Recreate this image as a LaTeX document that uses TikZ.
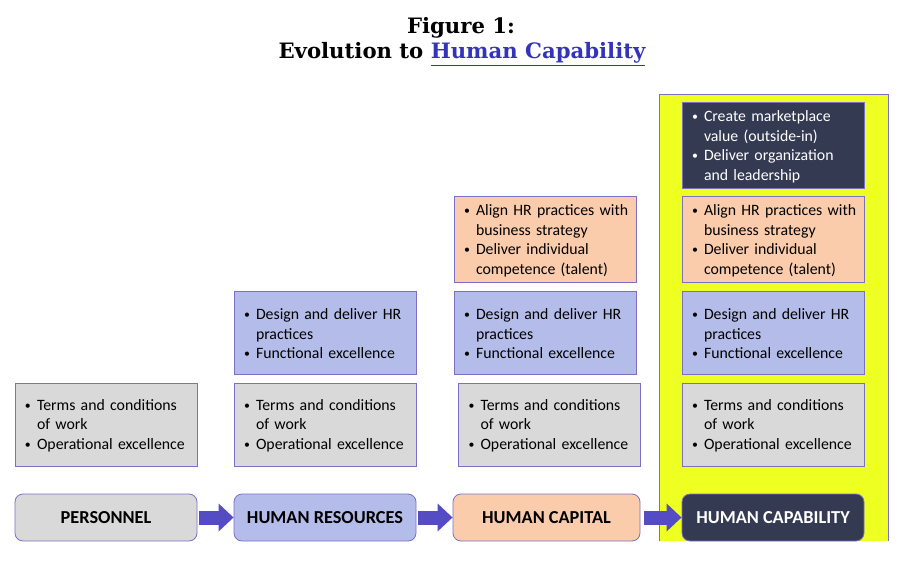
\documentclass[tikz,border=0pt]{standalone}
\usepackage{fontspec}
\usepackage{graphicx}
\setmainfont{Carlito}
\newfontfamily\titlefont{DejaVu Serif}
\usetikzlibrary{arrows.meta}
\definecolor{bxgray}{HTML}{D9D9D9}
\definecolor{bxblue}{HTML}{B4BDEA}
\definecolor{bxorange}{HTML}{FBCCAC}
\definecolor{bxdark}{HTML}{343A52}
\definecolor{bxborder}{HTML}{7A70C4}
\definecolor{hiyellow}{HTML}{EEFF22}
\definecolor{arrowcol}{HTML}{554BC2}
\definecolor{linkblue}{HTML}{3333BB}
\newcommand\bitem[1]{\par\hangindent=18pt\hangafter=1\noindent\makebox[18pt][l]{\hspace{6pt}\raisebox{1.2pt}{\scalebox{0.75}{•}}}#1\par}
\tikzset{
  infobox/.style={draw=bxborder, line width=0.8pt, minimum width=182pt, minimum height=83pt,
    text width=174pt, inner xsep=4pt, inner ysep=0pt,
    font=\fontsize{15.8}{19.5}\selectfont},
  graybox/.style={infobox, fill=bxgray},
  bluebox/.style={infobox, fill=bxblue},
  orangebox/.style={infobox, fill=bxorange},
  darkbox/.style={infobox, fill=bxdark, text=white},
  pill/.style={draw=bxborder, line width=0.8pt, rounded corners=8pt, minimum height=47pt,
    inner sep=0pt, font=\fontsize{18.3}{20}\selectfont\bfseries},
  flow/.style={arrowcol, line width=14pt, -{Triangle[width=27pt,length=15pt]}, shorten <=2pt}
}
\newcommand\boxtext[1]{#1\par\kern6pt}
\begin{document}
\begin{tikzpicture}[x=1pt,y=-1pt]
\useasboundingbox (0,0) rectangle (913,570);
% title
\node[font=\titlefont\fontsize{21.2}{25}\selectfont\bfseries] (t1) at (461,28) {Figure 1:};
\node[font=\titlefont\fontsize{21.2}{25}\selectfont\bfseries] (t2) at (462,54) {Evolution to \textcolor{linkblue}{\underline{Human Capability}}};
% yellow highlight
\fill[hiyellow] (659,94) rectangle (888.5,541);
\draw[bxborder, line width=1pt] (659,541) -- (659,94) -- (888.5,94) -- (888.5,541);
% column 1
\node[graybox] (g1) at (106,424.5) {\boxtext{\bitem{Terms and conditions\newline of work}\bitem{Operational excellence}}};
% column 2
\node[bluebox] (b2) at (325,332.5) {\boxtext{\bitem{Design and deliver HR\newline practices}\bitem{Functional excellence}}};
\node[graybox] (g2) at (325,424.5) {\boxtext{\bitem{Terms and conditions\newline of work}\bitem{Operational excellence}}};
% column 3
\node[orangebox] (o3) at (545,239.5) {\boxtext{\bitem{Align HR practices with\newline business strategy}\bitem{Deliver individual\newline competence (talent)}}};
\node[bluebox] (b3) at (545,332.5) {\boxtext{\bitem{Design and deliver HR\newline practices}\bitem{Functional excellence}}};
\node[graybox] (g3) at (549.5,424.5) {\boxtext{\bitem{Terms and conditions\newline of work}\bitem{Operational excellence}}};
% column 4
\node[darkbox] (d4) at (773,145.5) {\boxtext{\bitem{Create marketplace\newline value (outside-in)}\bitem{Deliver organization\newline and leadership}}};
\node[orangebox] (o4) at (773,239.5) {\boxtext{\bitem{Align HR practices with\newline business strategy}\bitem{Deliver individual\newline competence (talent)}}};
\node[bluebox] (b4) at (773,332.5) {\boxtext{\bitem{Design and deliver HR\newline practices}\bitem{Functional excellence}}};
\node[graybox] (g4) at (773,424.5) {\boxtext{\bitem{Terms and conditions\newline of work}\bitem{Operational excellence}}};
% stage pills
\node[pill, fill=bxgray, minimum width=182pt] (p1) at (106,517.5) {PERSONNEL};
\node[pill, fill=bxblue, minimum width=182pt] (p2) at (325,517.5) {HUMAN RESOURCES};
\node[pill, fill=bxorange, minimum width=187pt] (p3) at (546.5,517.5) {HUMAN CAPITAL};
\node[pill, fill=bxdark, text=white, minimum width=182pt] (p4) at (773,517.5) {HUMAN CAPABILITY};
% arrows
\draw[flow] (p1.east) -- (p2.west);
\draw[flow] (p2.east) -- (p3.west);
\draw[flow] ([xshift=2pt]p3.east) -- (p4.west);
\end{tikzpicture}
\end{document}
